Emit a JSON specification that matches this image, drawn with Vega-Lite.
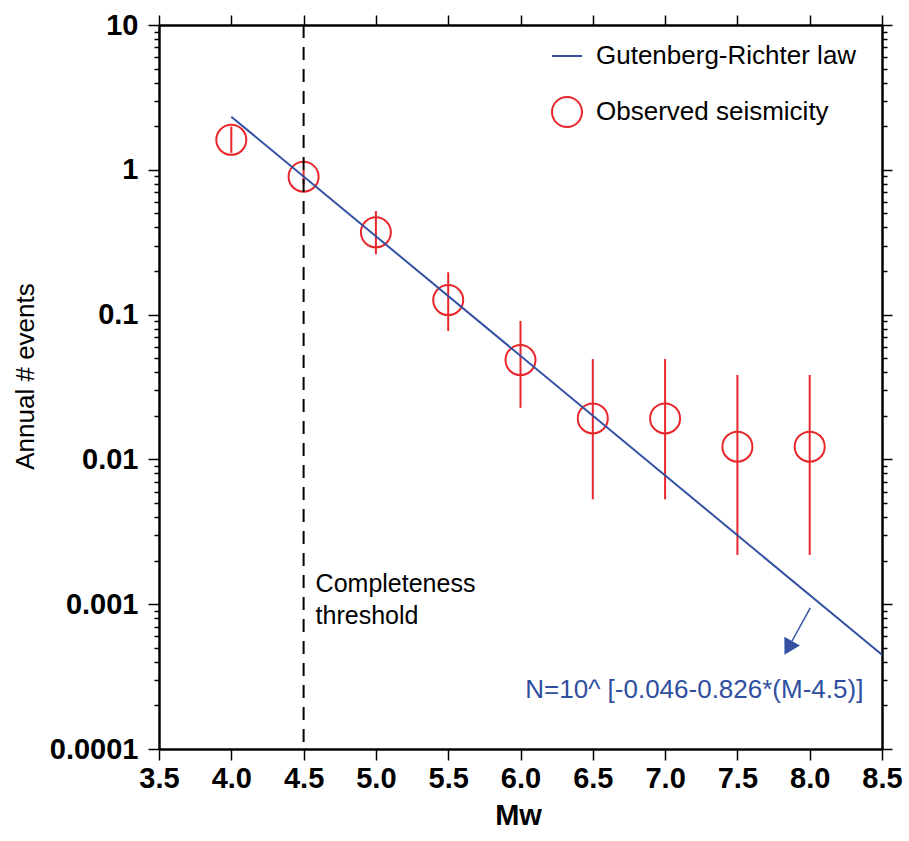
{
  "$schema": "https://vega.github.io/schema/vega-lite/v6.json",
  "width": 723,
  "height": 724,
  "autosize": "none",
  "padding": {"left": 159, "top": 25, "right": 27, "bottom": 92},
  "background": "white",
  "config": {
    "view": {"stroke": null},
    "font": "Liberation Sans",
    "axis": {
      "grid": false,
      "domainColor": "black",
      "domainWidth": 2.5,
      "tickColor": "black",
      "tickWidth": 1.5,
      "labelColor": "black",
      "titleColor": "black",
      "labelFont": "Liberation Sans",
      "titleFont": "Liberation Sans",
      "labelOverlap": false,
      "labelFlush": false,
      "labelBound": false
    }
  },
  "datasets": {
    "obs": [
      {"M": 4.0, "N": 1.61, "lo": 1.31, "hi": 1.99},
      {"M": 4.5, "N": 0.896, "lo": 0.80, "hi": 1.0},
      {"M": 5.0, "N": 0.370, "lo": 0.261, "hi": 0.519},
      {"M": 5.5, "N": 0.126, "lo": 0.0771, "hi": 0.196},
      {"M": 6.0, "N": 0.0485, "lo": 0.0227, "hi": 0.0904},
      {"M": 6.5, "N": 0.0192, "lo": 0.0053, "hi": 0.0493},
      {"M": 7.0, "N": 0.0192, "lo": 0.0053, "hi": 0.0493},
      {"M": 7.5, "N": 0.01225, "lo": 0.00219, "hi": 0.0383},
      {"M": 8.0, "N": 0.01225, "lo": 0.00219, "hi": 0.0383}
    ],
    "law": [
      {"M": 4.0, "N": 2.328},
      {"M": 8.5, "N": 0.000447}
    ],
    "thresholdLine": [{"M": 4.5}],
    "arrow": [{"M": 8.004, "N": 0.000942, "M2": 7.878, "N2": 0.000557}],
    "head": [{"M": 7.852, "N": 0.000499}],
    "formula": [{"M": 7.202, "N": 0.000255, "text": "N=10^ [-0.046-0.826*(M-4.5)]"}],
    "thresh": [{"M": 4.583, "N": 0.001377, "text": "Completeness\nthreshold"}]
  },
  "layer": [
    {
      "data": {"name": "obs"},
      "mark": {"type": "rule", "color": "#e8262b", "strokeWidth": 2},
      "encoding": {
        "x": {"field": "M", "type": "quantitative", "scale": {"domain": [3.5, 8.5]}, "axis": null},
        "y": {"field": "lo", "type": "quantitative", "scale": {"type": "log", "domain": [0.0001, 10]}, "axis": null},
        "y2": {"field": "hi"}
      }
    },
    {
      "data": {"name": "obs"},
      "mark": {"type": "point", "shape": "circle", "size": 900, "strokeWidth": 2, "filled": false, "opacity": 1},
      "encoding": {
        "x": {"field": "M", "type": "quantitative", "scale": {"domain": [3.5, 8.5]},
          "axis": {"orient": "top", "values": [3.5, 4, 4.5, 5, 5.5, 6, 6.5, 7, 7.5, 8, 8.5], "labels": false, "title": null, "tickSize": 10}
        },
        "y": {"field": "N", "type": "quantitative", "scale": {"type": "log", "domain": [0.0001, 10]},
          "axis": {"orient": "right", "labels": false, "title": null,
            "values": [0.0001,0.0002,0.0003,0.0004,0.0005,0.0006,0.0007,0.0008,0.0009,0.001,0.002,0.003,0.004,0.005,0.006,0.007,0.008,0.009,0.01,0.02,0.03,0.04,0.05,0.06,0.07,0.08,0.09,0.1,0.2,0.3,0.4,0.5,0.6,0.7,0.8,0.9,1,2,3,4,5,6,7,8,9,10],
            "tickSize": {"condition": {"test": "indexof([10,1,0.1,0.01,0.001,0.0001], datum.value) >= 0", "value": 10}, "value": 5}
          }
        },
        "color": {"datum": "Observed seismicity"}
      }
    },
    {
      "data": {"name": "law"},
      "mark": {"type": "line", "strokeWidth": 2},
      "encoding": {
        "x": {"field": "M", "type": "quantitative", "scale": {"domain": [3.5, 8.5]},
          "axis": {"orient": "bottom", "values": [3.5, 4, 4.5, 5, 5.5, 6, 6.5, 7, 7.5, 8, 8.5], "format": ".1f",
            "labelFontSize": 29, "labelFontWeight": "bold", "labelPadding": 4, "tickSize": 11,
            "title": "Mw", "titleFontSize": 29, "titleFontWeight": "bold",
            "titleX": 359, "titleY": 66, "titleAlign": "center", "titleBaseline": "middle", "titleAnchor": null}
        },
        "y": {"field": "N", "type": "quantitative", "scale": {"type": "log", "domain": [0.0001, 10]},
          "axis": {"orient": "left",
            "values": [0.0001,0.0002,0.0003,0.0004,0.0005,0.0006,0.0007,0.0008,0.0009,0.001,0.002,0.003,0.004,0.005,0.006,0.007,0.008,0.009,0.01,0.02,0.03,0.04,0.05,0.06,0.07,0.08,0.09,0.1,0.2,0.3,0.4,0.5,0.6,0.7,0.8,0.9,1,2,3,4,5,6,7,8,9,10],
            "labelExpr": "datum.value == 10 ? '10' : datum.value == 1 ? '1' : datum.value == 0.1 ? '0.1' : datum.value == 0.01 ? '0.01' : datum.value == 0.001 ? '0.001' : datum.value == 0.0001 ? '0.0001' : ''",
            "tickSize": {"condition": {"test": "indexof([10,1,0.1,0.01,0.001,0.0001], datum.value) >= 0", "value": 11}, "value": 5},
            "labelFontSize": 29, "labelFontWeight": "bold", "labelPadding": 10,
            "title": "Annual # events", "titleFontSize": 26, "titleFontWeight": "normal",
            "titleX": -134, "titleY": 351, "titleAlign": "center", "titleBaseline": "middle", "titleAngle": -90, "titleAnchor": null}
        },
        "color": {"datum": "Gutenberg-Richter law",
          "scale": {"domain": ["Gutenberg-Richter law", "Observed seismicity"], "range": ["#3451a3", "#e8262b"]},
          "legend": {"orient": "none", "legendX": 392, "legendY": 15, "title": null, "padding": 0,
            "symbolSize": 900, "symbolStrokeWidth": 2, "labelFontSize": 26, "labelFont": "Liberation Sans",
            "labelColor": "black", "labelOffset": 13, "rowPadding": 24, "labelLimit": 400,
            "encode": {"symbols": {"update": {
              "shape": {"signal": "datum.value == 'Gutenberg-Richter law' ? 'stroke' : 'circle'"},
              "fill": {"value": "transparent"},
              "strokeWidth": {"value": 2}
            }}}
          }
        }
      }
    },
    {
      "data": {"name": "thresholdLine"},
      "mark": {"type": "rule", "color": "black", "strokeWidth": 2, "strokeDash": [13, 9]},
      "encoding": {
        "x": {"field": "M", "type": "quantitative", "scale": {"domain": [3.5, 8.5]}, "axis": null}
      }
    },
    {
      "data": {"name": "arrow"},
      "mark": {"type": "rule", "color": "#3451a3", "strokeWidth": 1.5},
      "encoding": {
        "x": {"field": "M", "type": "quantitative", "scale": {"domain": [3.5, 8.5]}, "axis": null},
        "y": {"field": "N", "type": "quantitative", "scale": {"type": "log", "domain": [0.0001, 10]}, "axis": null},
        "x2": {"field": "M2"},
        "y2": {"field": "N2"}
      }
    },
    {
      "data": {"name": "head"},
      "mark": {"type": "point", "shape": "triangle-up", "filled": true, "size": 320, "angle": 209.7, "color": "#3451a3", "opacity": 1},
      "encoding": {
        "x": {"field": "M", "type": "quantitative", "scale": {"domain": [3.5, 8.5]}, "axis": null},
        "y": {"field": "N", "type": "quantitative", "scale": {"type": "log", "domain": [0.0001, 10]}, "axis": null}
      }
    },
    {
      "data": {"name": "formula"},
      "mark": {"type": "text", "fontSize": 26, "color": "#2f4e9f", "align": "center", "baseline": "middle"},
      "encoding": {
        "x": {"field": "M", "type": "quantitative", "scale": {"domain": [3.5, 8.5]}, "axis": null},
        "y": {"field": "N", "type": "quantitative", "scale": {"type": "log", "domain": [0.0001, 10]}, "axis": null},
        "text": {"field": "text"}
      }
    },
    {
      "data": {"name": "thresh"},
      "mark": {"type": "text", "fontSize": 25, "color": "black", "align": "left", "baseline": "middle", "lineBreak": "\n", "lineHeight": 32},
      "encoding": {
        "x": {"field": "M", "type": "quantitative", "scale": {"domain": [3.5, 8.5]}, "axis": null},
        "y": {"field": "N", "type": "quantitative", "scale": {"type": "log", "domain": [0.0001, 10]}, "axis": null},
        "text": {"field": "text"}
      }
    }
  ],
  "resolve": {"axis": {"x": "independent", "y": "independent"}}
}
